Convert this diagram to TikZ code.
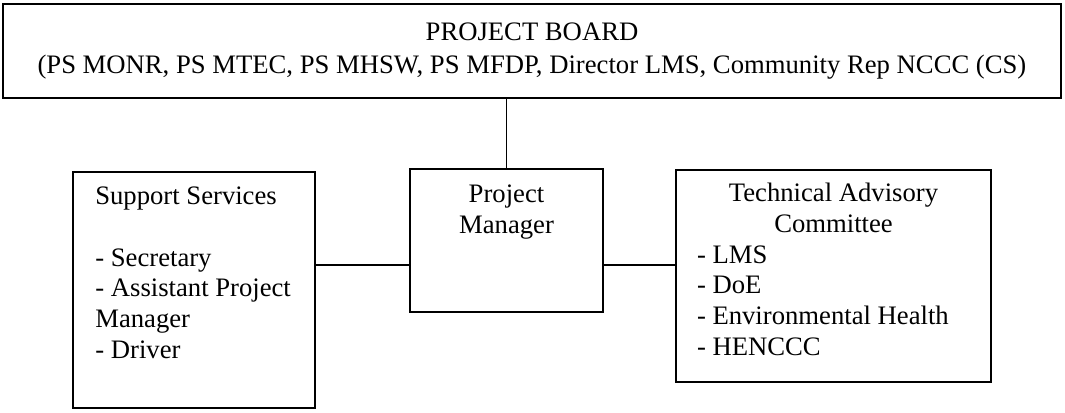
\documentclass[tikz,border=0pt]{standalone}
\usepackage{fontspec}
\setmainfont{Liberation Serif}
\usetikzlibrary{positioning}
\tikzset{
  orgbox/.style={draw=black,line width=1.4pt,inner sep=0pt},
  orgtext/.style={font=\fontsize{20}{23}\selectfont,inner sep=0pt},
  orglink/.style={draw=black,line width=1.1pt},
}

\begin{document}
\begin{tikzpicture}[x=0.75pt,y=-0.75pt]
\useasboundingbox (0,0) rectangle (1065,413);
% boxes
\node[orgbox,orgtext,align=center,minimum width=793.5pt,minimum height=70.5pt,font=\fontsize{20}{25}\selectfont] (board) at (532,51) {PROJECT BOARD\\(PS MONR, PS MTEC, PS MHSW, PS MFDP, Director LMS, Community Rep NCCC (CS)};
\node[orgbox,minimum width=144.75pt,minimum height=107.25pt] (pm) at (506.5,240.5) {};
\node[orgbox,minimum width=181.5pt,minimum height=177pt] (support) at (194,290) {};
\node[orgbox,minimum width=236.25pt,minimum height=159pt] (tac) at (833.5,276) {};
% texts
\node[orgtext,align=center,below=12.75pt of pm.north] (pmtext) {Project\\Manager};
\node[orgtext,align=left,anchor=north west] (supporttext) at ([xshift=17.25pt,yshift=-12pt]support.north west) {Support Services\\[23pt]- Secretary\\- Assistant Project\\Manager\\- Driver};
\node[orgtext,align=flush left,text width=204.75pt,below=10.5pt of tac.north] (tactext) {{\centering Technical Advisory\\Committee\par}- LMS\\- DoE\\- Environmental Health\\- HENCCC};
% links
\coordinate (midlink) at (506,265);
\draw[orglink] (pm.north |- board.south) -- (pm.north);
\draw[orglink] (support.east |- midlink) -- (pm.west |- midlink);
\draw[orglink] (pm.east |- midlink) -- (tac.west |- midlink);
\end{tikzpicture}
\end{document}
